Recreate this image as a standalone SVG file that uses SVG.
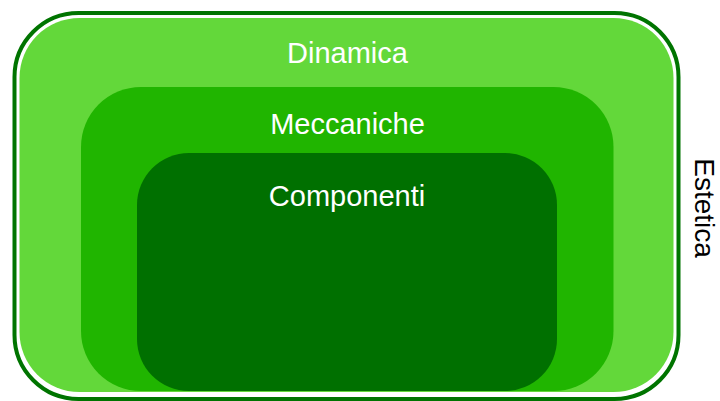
<svg xmlns="http://www.w3.org/2000/svg" width="720" height="401" viewBox="0 0 720 401">
  <style>
    .lbl { font-family: "Liberation Sans", Arial, Helvetica, sans-serif; font-size: 29px; fill: #ffffff; text-anchor: middle; }
    .side { font-family: "Liberation Sans", Arial, Helvetica, sans-serif; font-size: 28px; fill: #000000; text-anchor: middle; }
  </style>
  <rect width="720" height="401" fill="#ffffff"/>
  <g id="estetica">
    <rect x="14.5" y="13" width="664" height="386" rx="64" ry="64" fill="#ffffff" stroke="#007400" stroke-width="4"/>
    <text class="side" transform="translate(695,208) rotate(90)" x="0" y="0">Estetica</text>
  </g>
  <g id="dinamica">
    <rect x="19.5" y="18" width="654" height="374" rx="60" ry="60" fill="#63D83A"/>
    <text class="lbl" x="347.5" y="62.5">Dinamica</text>
  </g>
  <g id="meccaniche">
    <rect x="81" y="87" width="532.5" height="304" rx="60" ry="60" fill="#20B500"/>
    <text class="lbl" x="347.5" y="134">Meccaniche</text>
  </g>
  <g id="componenti">
    <rect x="137" y="153" width="420" height="238" rx="52" ry="52" fill="#007000"/>
    <text class="lbl" x="347" y="205.5">Componenti</text>
  </g>
  <g id="connectors"/>
</svg>
